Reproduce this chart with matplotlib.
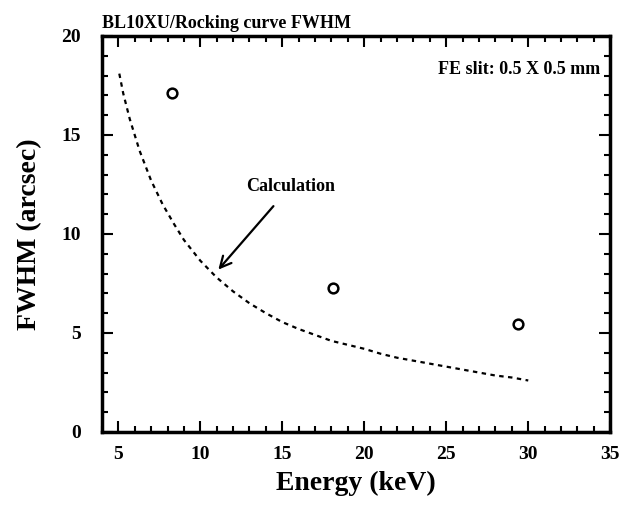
import matplotlib
matplotlib.use("Agg")
import matplotlib.pyplot as plt
from matplotlib.ticker import MultipleLocator

plt.rcParams['font.family'] = ['Liberation Serif', 'DejaVu Serif']
plt.rcParams['font.weight'] = 'bold'

# measured FWHM (open circles)
meas_energy = [8.26, 18.1, 29.4]
meas_fwhm = [17.1, 7.29, 5.45]

# calculated curve (dashed)
calc_energy = [5.06, 5.3, 5.7, 6.3, 7.0, 7.7, 8.4, 9.0, 10.0, 11.0, 12.0, 13.0, 14.0,
               15.0, 16.0, 17.0, 18.0, 19.0, 20.0, 21.0, 22.0, 23.0, 24.0, 25.0,
               26.0, 27.0, 28.0, 29.0, 30.0]
calc_fwhm = [18.1, 17.1, 15.8, 14.2, 12.7, 11.5, 10.5, 9.7, 8.65, 7.8, 7.1, 6.5, 6.0,
             5.55, 5.2, 4.9, 4.6, 4.4, 4.2, 3.95, 3.75, 3.6, 3.45, 3.3,
             3.15, 3.0, 2.85, 2.75, 2.6]

xticks = [5, 10, 15, 20, 25, 30, 35]
yticks = [0, 5, 10, 15, 20]

fig = plt.figure(figsize=(6.37, 5.07), dpi=100)
ax = fig.add_axes([0.160, 0.148, 0.798, 0.781])

ax.plot(calc_energy, calc_fwhm, color='black', lw=1.6, linestyle=(0, (2, 2)))
ax.plot(meas_energy, meas_fwhm, 'o', mfc='white', mec='black', mew=1.8, ms=7)

ax.annotate('Calculation', xy=(11.1, 8.2), xytext=(15.5, 12.4),
            ha='center', va='center', fontsize=13, fontweight='bold',
            arrowprops=dict(arrowstyle='->', color='black', lw=1.6,
                            shrinkA=8, shrinkB=0, mutation_scale=20))
ax.text(34.4, 18.3, 'FE slit: 0.5 X 0.5 mm', ha='right', va='center',
        fontsize=13, fontweight='bold')

ax.set_xlim(4, 35)
ax.set_ylim(0, 20)
ax.set_xticks(xticks)
ax.set_yticks(yticks)
ax.xaxis.set_minor_locator(MultipleLocator(1))
ax.yaxis.set_minor_locator(MultipleLocator(1))
ax.tick_params(which='both', direction='in', top=True, right=True, width=1.5,
               labelsize=14)
ax.tick_params(which='major', length=8)
ax.tick_params(axis='x', which='major', pad=10)
ax.tick_params(axis='y', which='major', pad=15)
ax.tick_params(which='minor', length=4)
for s in ax.spines.values():
    s.set_linewidth(2.5)

ax.set_xlabel('Energy (keV)', fontsize=20, fontweight='bold', labelpad=6)
ax.set_ylabel('FWHM (arcsec)', fontsize=20, fontweight='bold', labelpad=14)
ax.set_title('BL10XU/Rocking curve FWHM', loc='left', fontsize=13,
             fontweight='bold', pad=6)

fig.savefig('out.png', dpi=100)
